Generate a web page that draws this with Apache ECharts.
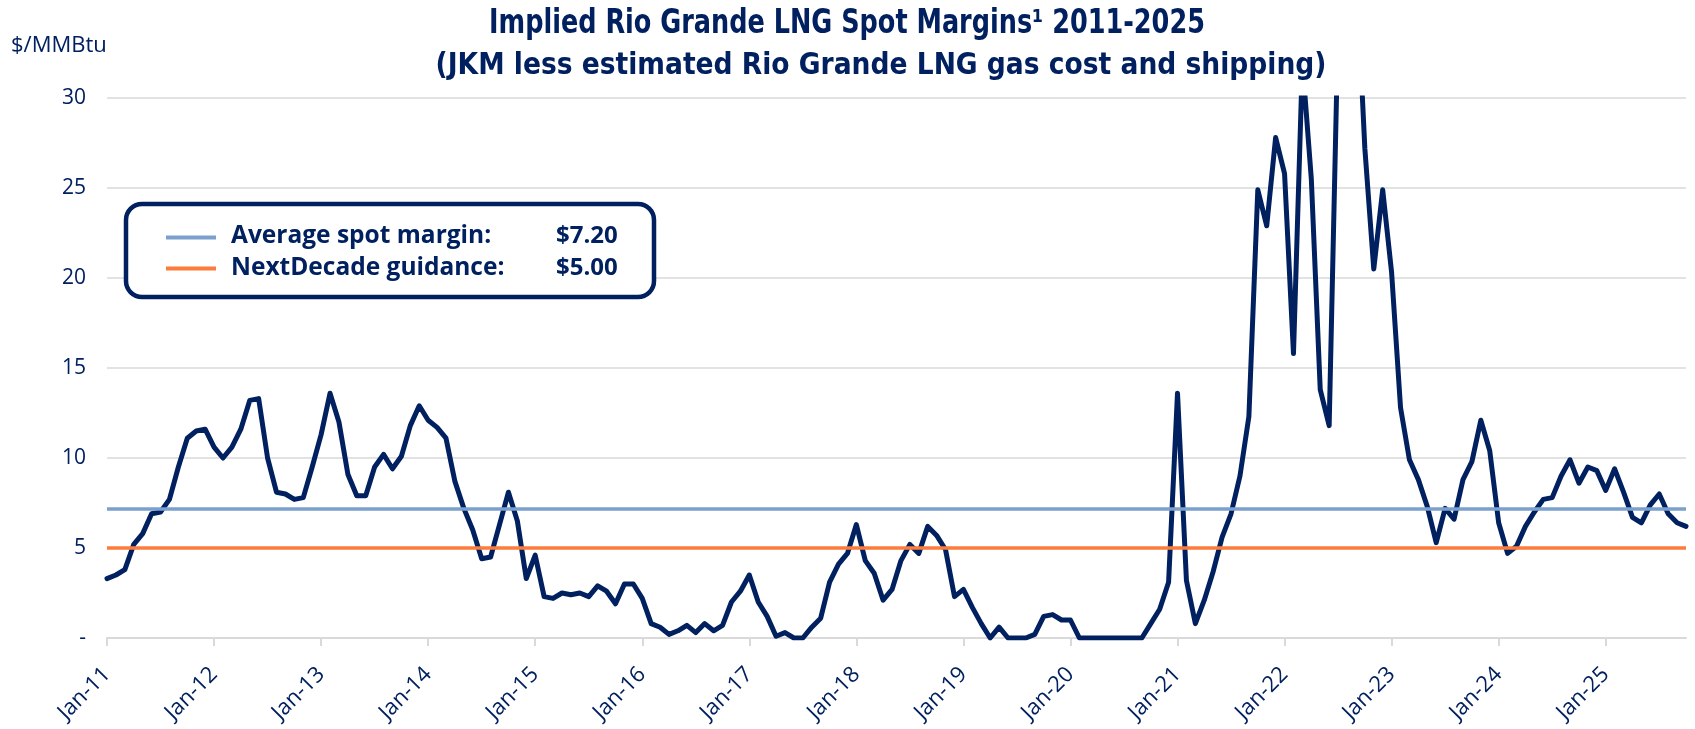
<!DOCTYPE html>
<html>
<head>
<meta charset="utf-8">
<title>Implied Rio Grande LNG Spot Margins</title>
<script src="https://cdn.jsdelivr.net/npm/echarts@6/dist/echarts.min.js"></script>
<style>
  html, body { margin: 0; padding: 0; background: #fff; }
  #chart { width: 1695px; height: 729px; }
</style>
</head>
<body>
<div id="chart"></div>
<script>
// monthly implied spot margin, $/MMBtu (Jan-11 .. Oct-25)
const months = ['Jan', 'Feb', 'Mar', 'Apr', 'May', 'Jun', 'Jul', 'Aug', 'Sep', 'Oct', 'Nov', 'Dec']
const years = ['11', '12', '13', '14', '15', '16', '17', '18', '19', '20', '21', '22', '23', '24', '25']

const m2011 = [3.3, 3.5, 3.8, 5.2, 5.8, 6.9, 7.0, 7.7, 9.5, 11.1, 11.5, 11.6]
const m2012 = [10.6, 10.0, 10.6, 11.6, 13.2, 13.3, 10.0, 8.1, 8.0, 7.7, 7.8, 9.5]
const m2013 = [11.3, 13.6, 12.0, 9.1, 7.9, 7.9, 9.5, 10.2, 9.4, 10.1, 11.8, 12.9]
const m2014 = [12.1, 11.7, 11.1, 8.7, 7.2, 6.0, 4.4, 4.5, 6.3, 8.1, 6.5, 3.3]
const m2015 = [4.6, 2.3, 2.2, 2.5, 2.4, 2.5, 2.3, 2.9, 2.6, 1.9, 3.0, 3.0]
const m2016 = [2.2, 0.8, 0.6, 0.2, 0.4, 0.7, 0.3, 0.8, 0.4, 0.7, 2.0, 2.6]
const m2017 = [3.5, 2.0, 1.2, 0.1, 0.3, 0.0, 0.0, 0.6, 1.1, 3.1, 4.1, 4.7]
const m2018 = [6.3, 4.3, 3.6, 2.1, 2.7, 4.3, 5.2, 4.7, 6.2, 5.7, 4.9, 2.3]
const m2019 = [2.7, 1.7, 0.8, 0.0, 0.6, 0.0, 0.0, 0.0, 0.2, 1.2, 1.3, 1.0]
const m2020 = [1.0, 0.0, 0.0, 0.0, 0.0, 0.0, 0.0, 0.0, 0.0, 0.8, 1.6, 3.1]
const m2021 = [13.6, 3.2, 0.8, 2.1, 3.7, 5.6, 6.9, 9.0, 12.3, 24.9, 22.9, 27.8]
const m2022 = [25.8, 15.8, 32.0, 25.5, 13.8, 11.8, 34.0, 45.0, 37.5, 27.2, 20.5, 24.9]
const m2023 = [20.3, 12.8, 9.9, 8.8, 7.3, 5.3, 7.2, 6.6, 8.8, 9.8, 12.1, 10.4]
const m2024 = [6.4, 4.7, 5.1, 6.2, 7.0, 7.7, 7.8, 9.0, 9.9, 8.6, 9.5, 9.3]
const m2025 = [8.2, 9.4, 8.1, 6.7, 6.4, 7.4, 8.0, 6.9, 6.4, 6.2]

const avgMargin = 7.20
const guidance = 5.00

const margins = [].concat(m2011, m2012, m2013, m2014, m2015, m2016, m2017, m2018,
  m2019, m2020, m2021, m2022, m2023, m2024, m2025)

let categories = []
years.forEach(function (y) {
  months.forEach(function (m) {
    categories.push(m + '-' + y)
  })
})
categories = categories.slice(0, margins.length)

const navy = '#002060'
const blueLine = '#7ba0cd'
const orangeLine = '#fb7c3c'
const grey = '#d9d9d9'
const font = '"Open Sans", "Noto Sans", sans-serif'
const narrow = '"Liberation Sans Narrow", "DejaVu Sans Condensed", "Open Sans", sans-serif'

const isJan = function (idx) { return idx % 12 === 0 }

let chart = echarts.init(document.getElementById('chart'), null, { renderer: 'canvas' })
chart.setOption({
  animation: false,
  grid: {
    left: 107,
    right: 9,
    top: 98,
    bottom: 91
  },
  xAxis: {
    type: 'category',
    data: categories,
    boundaryGap: false,
    axisLine: { lineStyle: { color: grey, width: 2 } },
    axisTick: {
      show: true,
      interval: isJan,
      length: 8,
      lineStyle: { color: grey, width: 2 }
    },
    axisLabel: {
      interval: isJan,
      rotate: 45,
      margin: 33,
      color: navy,
      fontSize: 22,
      fontFamily: font
    },
    splitLine: { show: false }
  },
  yAxis: {
    type: 'value',
    min: 0,
    max: 30,
    interval: 5,
    axisLine: { show: false },
    axisTick: { show: false },
    axisLabel: {
      margin: 21,
      color: navy,
      fontSize: 21,
      fontFamily: font,
      formatter: function (v) { return v === 0 ? '-' : v }
    },
    splitLine: { lineStyle: { color: grey, width: 1.5 } }
  },
  series: [
    {
      name: 'Implied spot margin',
      type: 'line',
      data: margins,
      showSymbol: false,
      clip: true,
      z: 2,
      lineStyle: { color: navy, width: 5, cap: 'round', join: 'round' }
    },
    {
      name: 'Average spot margin',
      type: 'line',
      data: [],
      z: 3,
      markLine: {
        silent: true,
        symbol: 'none',
        label: { show: false },
        lineStyle: { color: blueLine, width: 3.5, type: 'solid' },
        data: [{ yAxis: avgMargin }]
      }
    },
    {
      name: 'NextDecade guidance',
      type: 'line',
      data: [],
      z: 3,
      markLine: {
        silent: true,
        symbol: 'none',
        label: { show: false },
        lineStyle: { color: orangeLine, width: 3.5, type: 'solid' },
        data: [{ yAxis: guidance }]
      }
    }
  ],
  graphic: [
    {
      type: 'text', left: 11, top: 35,
      style: { text: '$/MMBtu', font: '22px ' + font, fill: navy }
    },
    {
      type: 'text', x: 847, y: 24, scaleX: 0.86,
      style: {
        text: 'Implied Rio Grande LNG Spot Margins\u00b9 2011-2025',
        font: 'bold 33px ' + narrow, fill: navy,
        textAlign: 'center', textVerticalAlign: 'middle'
      }
    },
    {
      type: 'text', x: 881, y: 66,
      style: {
        text: '(JKM less estimated Rio Grande LNG gas cost and shipping)',
        font: 'bold 29.5px ' + narrow, fill: navy,
        textAlign: 'center', textVerticalAlign: 'middle'
      }
    },
    // legend box
    {
      type: 'rect', z: 10,
      shape: { x: 126, y: 204, width: 528, height: 93, r: 16 },
      style: { fill: '#fff', stroke: navy, lineWidth: 4.5 }
    },
    {
      type: 'line', z: 11,
      shape: { x1: 166, y1: 237.5, x2: 216, y2: 237.5 },
      style: { stroke: blueLine, lineWidth: 4 }
    },
    {
      type: 'line', z: 11,
      shape: { x1: 166, y1: 268.5, x2: 216, y2: 268.5 },
      style: { stroke: orangeLine, lineWidth: 4 }
    },
    {
      type: 'text', z: 11, x: 231, y: 236,
      style: { text: 'Average spot margin:', font: 'bold 24.5px ' + font, fill: navy, textVerticalAlign: 'middle' }
    },
    {
      type: 'text', z: 11, x: 231, y: 268,
      style: { text: 'NextDecade guidance:', font: 'bold 24.5px ' + font, fill: navy, textVerticalAlign: 'middle' }
    },
    {
      type: 'text', z: 11, x: 556, y: 236,
      style: { text: '$' + avgMargin.toFixed(2), font: 'bold 24px ' + font, fill: navy, textVerticalAlign: 'middle' }
    },
    {
      type: 'text', z: 11, x: 556, y: 268,
      style: { text: '$' + guidance.toFixed(2), font: 'bold 24px ' + font, fill: navy, textVerticalAlign: 'middle' }
    }
  ]
})
</script>
</body>
</html>
